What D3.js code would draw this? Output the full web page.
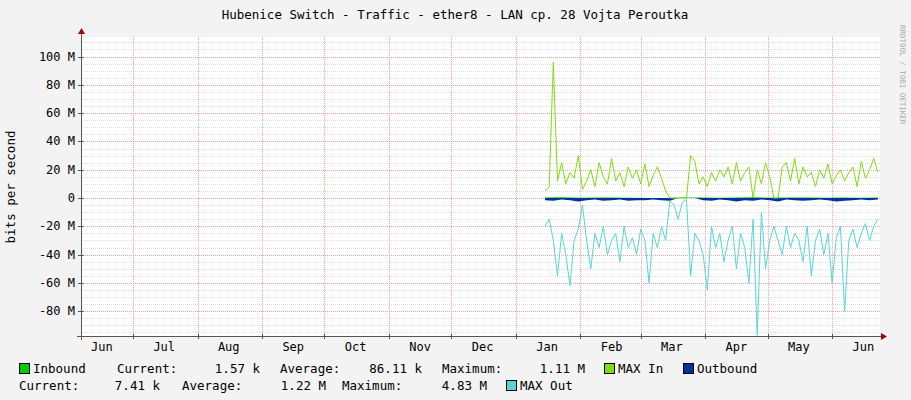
<!DOCTYPE html>
<html><head><meta charset="utf-8">
<script src="https://cdn.jsdelivr.net/npm/d3@7/dist/d3.min.js"></script>
<style>body{margin:0;background:#f3f3f3}svg{display:block}text{font-family:"DejaVu Sans Mono",monospace;fill:#000}</style>
</head><body><svg id="c" width="911" height="400"></svg>
<script>
const title = "Hubenice Switch - Traffic - ether8 - LAN cp. 28 Vojta Peroutka";
const yTicks = [100, 80, 60, 40, 20, 0, -20, -40, -60, -80];
const monthLabels = ["Jun","Jul","Aug","Sep","Oct","Nov","Dec","Jan","Feb","Mar","Apr","May","Jun"];
const dataStart = "2024-01-15", dataEnd = "2024-06-23";
// MBit/s values, sampled evenly between dataStart and dataEnd
const maxIn = [5,8,96,12,25,10,18,14,30,6,12,20,8,25,15,10,28,12,18,8,22,14,20,10,24,8,16,22,14,5,0,0,0,0,0,30,26,10,15,8,18,12,20,15,22,10,25,12,18,22,0,20,10,25,15,0,0,22,25,12,28,10,22,15,18,8,20,14,24,10,16,20,12,18,22,8,26,14,20,28,18];
const maxOut = [-20,-15,-30,-55,-25,-40,-62,-30,-22,-5,-30,-50,-25,-35,-20,-40,-30,-25,-45,-20,-35,-28,-40,-22,-30,-60,-25,-35,-20,-30,-2,-5,-15,-3,-1,-55,-25,-30,-40,-65,-20,-35,-25,-45,-30,-20,-50,-25,-35,-60,-15,-97,-10,-50,-30,-20,-30,-40,-20,-35,-25,-30,-45,-20,-55,-30,-22,-40,-25,-60,-28,-20,-80,-30,-22,-35,-25,-18,-30,-20,-15];
const outbound = [-1.5,-2,-1,-1.5,-2.5,-1.5,-1,-2,-1.5,-1,-2,-1.5,-1.5,-1,-1.5,-2,0,0,0,-1.5,-2,-1,-1.5,-2.5,-1.5,-2,-1,-1.5,-2.5,-1,-1.5,-2,-1.5,-1,-1.5,-2.5,-2,-1.5,-1,-1.5,-1];
const inbound = [0.3,0.5,0.2,0.4,0.3,0.2,0,0,0.3,0.4,0.2,0.3,0.5,0.2,0.3,0.4,0.2,0.3,0.2,0.3];
const legend1 = [["Inbound","#00cc00"],["MAX In","#7fdc10"],["Outbound","#0033a0"]];
const legend2 = ["MAX Out","#55d5d5"];

const svg = d3.select("#c");
const L=81, R=880, T=37, B=336;
const x = d3.scaleTime().domain([new Date("2023-06-06"), new Date("2024-06-24")]).range([L,R]);
const y = d3.scaleLinear().domain([-97.5, 113.8]).range([B,T]);
svg.append("rect").attr("x",L).attr("y",T).attr("width",R-L).attr("height",B-T).attr("fill","#fff");
const minor = d3.range(-95, 115, 5).filter(v=>v%20!==0);
svg.append("g").selectAll("line").data(minor).join("line")
 .attr("x1",L).attr("x2",R).attr("y1",d=>Math.round(y(d))+.5).attr("y2",d=>Math.round(y(d))+.5)
 .attr("stroke","#ddd").attr("stroke-dasharray","1,1");
svg.append("g").selectAll("line").data(yTicks).join("line")
 .attr("x1",L).attr("x2",R).attr("y1",d=>Math.round(y(d))+.5).attr("y2",d=>Math.round(y(d))+.5)
 .attr("stroke","#f0a0a0").attr("stroke-dasharray","1,1");
const months = d3.timeMonth.range(new Date("2023-07-01"), new Date("2024-06-24"));
svg.append("g").selectAll("line").data(months).join("line")
 .attr("x1",d=>Math.round(x(d))+.5).attr("x2",d=>Math.round(x(d))+.5).attr("y1",T).attr("y2",B)
 .attr("stroke","#f0a0a0").attr("stroke-dasharray","1,1");
const t0=new Date(dataStart), t1=new Date(dataEnd);
const tt = (arr)=>{const s=d3.scaleLinear().domain([0,arr.length-1]).range([t0,t1]);return arr.map((v,i)=>[new Date(s(i)),v]);};
const area = d3.area().x(d=>x(d[0])).y0(y(0)).y1(d=>y(d[1]));
const line = d3.line().x(d=>x(d[0])).y(d=>y(d[1]));
svg.append("path").attr("d",line(tt(maxOut))).attr("fill","none").attr("stroke","#55d5d5").attr("stroke-width",1);
svg.append("path").attr("d",area(tt(outbound))).attr("fill","#0033a0");
svg.append("path").attr("d",line(tt(maxIn))).attr("fill","none").attr("stroke","#7fdc10").attr("stroke-width",1);
svg.append("path").attr("d",area(tt(inbound))).attr("fill","#00cc00");
svg.append("line").attr("x1",L-4).attr("x2",R+2).attr("y1",B+.5).attr("y2",B+.5).attr("stroke","#555");
svg.append("line").attr("x1",L+.5).attr("x2",L+.5).attr("y1",B+4).attr("y2",T-4).attr("stroke","#555");
svg.append("path").attr("d",`M${R+1},${B-3}L${R+7},${B+.5}L${R+1},${B+4}Z`).attr("fill","#a00");
svg.append("path").attr("d",`M${L-3},${T-3}L${L+.5},${T-9}L${L+4},${T-3}Z`).attr("fill","#a00");
svg.append("g").selectAll("line").data(yTicks).join("line").attr("x1",L-3).attr("x2",L+3)
 .attr("y1",d=>Math.round(y(d))+.5).attr("y2",d=>Math.round(y(d))+.5).attr("stroke","#555");
svg.append("g").selectAll("line").data(months).join("line").attr("y1",B-2).attr("y2",B+3)
 .attr("x1",d=>Math.round(x(d))+.5).attr("x2",d=>Math.round(x(d))+.5).attr("stroke","#555");
svg.append("g").selectAll("text").data(yTicks).join("text").attr("x",L-6).attr("y",d=>y(d)+4)
 .attr("text-anchor","end").attr("font-size",12).text(d=>d===0?"0":d+" M");
const mids = [new Date("2023-06-16")].concat(months.map(m=>new Date(+m+15*864e5)));
svg.append("g").selectAll("text").data(mids).join("text").attr("x",d=>x(d)).attr("y",B+15)
 .attr("text-anchor","middle").attr("font-size",12).text((d,i)=>monthLabels[i]);
svg.append("text").attr("x",455).attr("y",19).attr("text-anchor","middle").attr("font-size",12.5).text(title);
svg.append("text").attr("transform","translate(15,187) rotate(-90)").attr("text-anchor","middle").attr("font-size",12.5).text("bits per second");
svg.append("text").attr("transform","translate(900,25) rotate(90)").attr("font-size",7.5).style("fill","#aaa").text("RRDTOOL / TOBI OETIKER");
const lg = svg.append("g").attr("font-size",12.5);
const sq=(xx,yy,c)=>lg.append("rect").attr("x",xx+.5).attr("y",yy+.5).attr("width",10).attr("height",10).attr("fill",c).attr("stroke","#000");
sq(19,363,legend1[0][1]); lg.append("text").attr("x",33).attr("y",373).text(legend1[0][0]);
const txt=(xx,yy,s,a)=>lg.append("text").attr("x",xx).attr("y",yy).attr("text-anchor",a||"start").text(s);
txt(117,373,"Current:"); txt(260,373,"1.57 k","end");
txt(280,373,"Average:"); txt(422,373,"86.11 k","end");
txt(442,373,"Maximum:"); txt(585,373,"1.11 M","end");
sq(604,363,legend1[1][1]); txt(618,373,legend1[1][0]);
sq(683,363,legend1[2][1]); txt(697,373,legend1[2][0]);
txt(19,390,"Current:"); txt(160,390,"7.41 k","end");
txt(182,390,"Average:"); txt(326,390,"1.22 M","end");
txt(342,390,"Maximum:"); txt(487,390,"4.83 M","end");
sq(506,380,legend2[1]); txt(520,390,legend2[0]);
</script></body></html>
